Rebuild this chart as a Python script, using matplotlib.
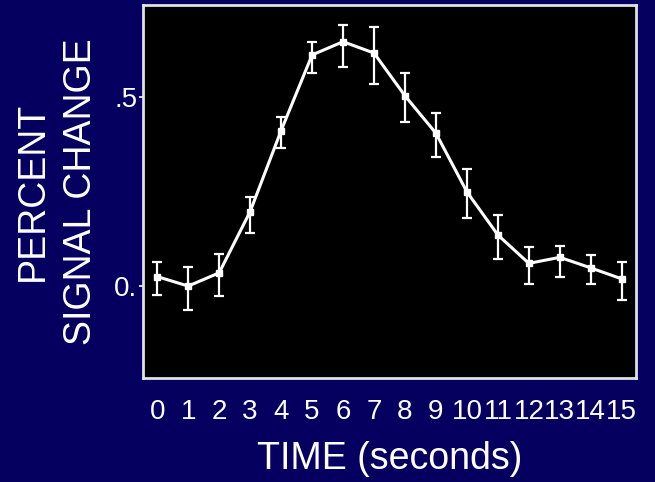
import numpy as np
import matplotlib
matplotlib.use('Agg')
import matplotlib.pyplot as plt

plt.rcParams['font.family'] = ['Liberation Sans', 'DejaVu Sans']

time_s = list(range(16))
signal = [0.025, 0.000, 0.035, 0.197, 0.411, 0.611, 0.646, 0.616,
          0.503, 0.404, 0.249, 0.135, 0.060, 0.076, 0.048, 0.019]
err_hi = [0.064, 0.051, 0.085, 0.235, 0.446, 0.646, 0.690, 0.684,
          0.564, 0.458, 0.309, 0.188, 0.104, 0.106, 0.082, 0.064]
err_lo = [-0.024, -0.062, -0.026, 0.139, 0.364, 0.564, 0.580, 0.534,
          0.435, 0.340, 0.179, 0.071, 0.005, 0.025, 0.005, -0.037]
ytick_vals = [0.0, 0.5]
ytick_text = ['0.', '.5']

bg = '#05005f'
fig = plt.figure(figsize=(6.55, 4.82), dpi=100, facecolor=bg)
ax = fig.add_axes([0.2183, 0.2158, 0.7527, 0.7738], facecolor='black')

sig = np.array(signal)
yerr = [sig - np.array(err_lo), np.array(err_hi) - sig]
ax.errorbar(time_s, signal, yerr=yerr, color='white', lw=2.2,
            marker='s', ms=5, elinewidth=1.6, capsize=3.5, capthick=1.6)

ax.set_xlim(-0.46, 15.46)
ax.set_ylim(-0.243, 0.743)
ax.set_xticks(time_s)
ax.set_xticklabels([str(t) for t in time_s])
ax.set_yticks(ytick_vals)
ax.set_yticklabels(ytick_text)
ax.tick_params(axis='x', length=0, pad=15, labelsize=20, colors='white')
ax.tick_params(axis='y', length=3, width=1.2, pad=1, labelsize=20, colors='white')

for s in ax.spines.values():
    s.set_color('#e0e0e8')
    s.set_linewidth(2)

ax.set_xlabel('TIME (seconds)', fontsize=27, color='white', labelpad=12)
ax.set_ylabel('PERCENT\nSIGNAL CHANGE', fontsize=27, color='white',
              labelpad=11, linespacing=1.45)

fig.savefig('out.png', dpi=100, facecolor=bg)
